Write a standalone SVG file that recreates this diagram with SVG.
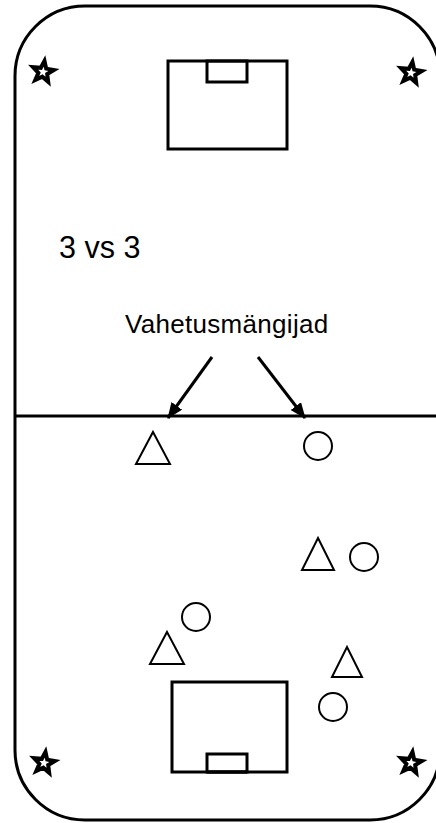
<svg xmlns="http://www.w3.org/2000/svg" width="436" height="823" viewBox="0 0 436 823">
<style>
.ln{fill:none;stroke:#000;stroke-width:3}
.sh{fill:#fff;stroke:#000;stroke-width:2}
.st{fill:#fff;stroke:#000;stroke-width:4;stroke-linejoin:miter;stroke-miterlimit:10}
.tx{font-family:"Liberation Sans",Arial,sans-serif;fill:#000}
</style>
<defs>
<polygon id="star" points="1.5,-11 3.2,-3.4 10.9,-2 4.2,2 5.2,9.8 -0.7,4.7 -7.7,8 -4.6,0.8 -9.9,-4.8 -2.2,-4.2"/>
<marker id="ah" markerWidth="16" markerHeight="13" refX="15" refY="6.5" orient="auto" markerUnits="userSpaceOnUse">
<path d="M0,0 L16,6.5 L0,13 Z" fill="#000"/>
</marker>
</defs>
<g id="field">
<rect x="15" y="6" width="425" height="814" rx="70" ry="70" class="ln"/>
<line x1="15" y1="416" x2="436" y2="416" class="ln" stroke-width="3.5"/>
</g>
<g id="goal-top">
<rect x="168" y="61" width="119" height="88" class="ln"/>
<rect x="207" y="61" width="40" height="21" class="ln"/>
</g>
<g id="goal-bottom">
<rect x="172" y="682" width="115" height="90" class="ln"/>
<rect x="207" y="754" width="40" height="18" class="ln"/>
<line x1="207" y1="772" x2="247" y2="772" class="ln" stroke-width="5"/>
</g>
<g id="corners">
<use href="#star" x="43" y="72" class="st"/>
<use href="#star" x="411" y="73" class="st"/>
<use href="#star" x="44" y="763" class="st"/>
<use href="#star" x="411" y="763" class="st"/>
</g>
<g id="label-3vs3"><text x="59" y="258" class="tx" font-size="30.5">3 vs 3</text></g>
<g id="label-vahetus"><text x="125" y="333" class="tx" font-size="26" letter-spacing="0.3">Vahetusmängijad</text></g>
<g id="connectors">
<line x1="212" y1="357" x2="168" y2="418" class="ln" marker-end="url(#ah)"/>
<line x1="258" y1="357" x2="305" y2="418" class="ln" marker-end="url(#ah)"/>
</g>
<g id="players">
<polygon points="153,432 170,464 136,464" class="sh"/>
<circle cx="318" cy="446" r="14" class="sh"/>
<polygon points="318,538 334,570 302,570" class="sh"/>
<circle cx="364" cy="557" r="14" class="sh"/>
<circle cx="196" cy="617" r="14" class="sh"/>
<polygon points="167,632 184,664 150,664" class="sh"/>
<polygon points="347,647 362,677 332,677" class="sh"/>
<circle cx="333" cy="707" r="14" class="sh"/>
</g>
</svg>
